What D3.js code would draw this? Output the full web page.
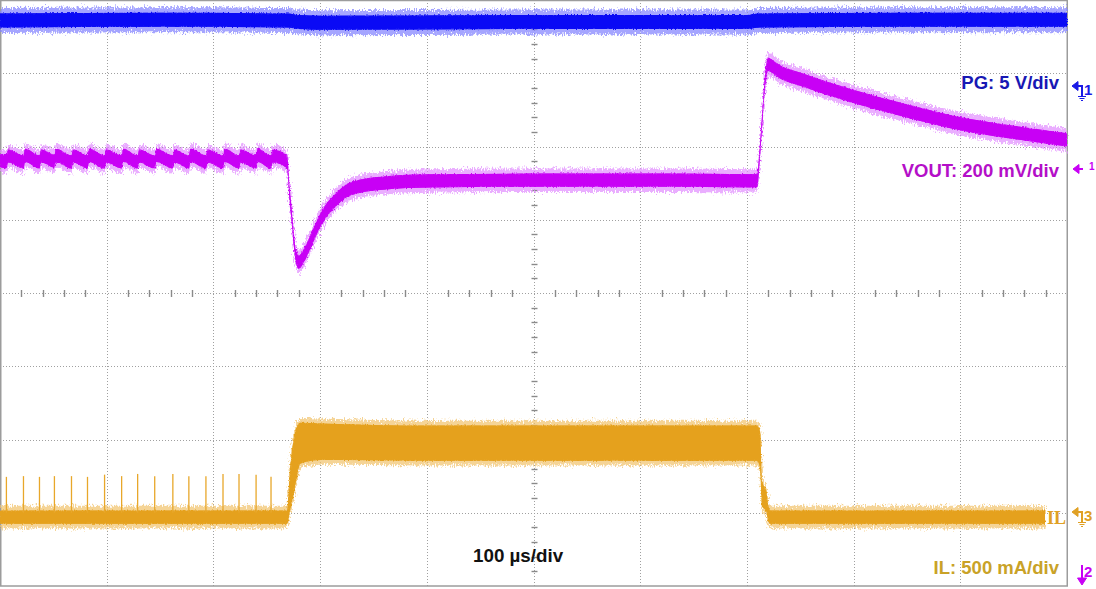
<!DOCTYPE html>
<html><head><meta charset="utf-8">
<script src="https://cdn.jsdelivr.net/npm/d3@7"></script>
<style>html,body{margin:0;padding:0;background:#fff}svg{display:block}</style>
</head><body>
<svg id="c" width="1096" height="589"></svg>
<script>
// Horizontal: time in µs (100 µs/div, 10 div). Vertical: screen divisions (-4 .. +4).
const timebaseLabel = "100 µs/div";
const channelLabels = ["PG: 5 V/div", "VOUT: 200 mV/div", "IL: 500 mA/div"];
const traceTag = "IL";

// PG trace: [time µs, level div]
const pgPoints = [[0,3.72],[150,3.73],[270,3.72],[280,3.70],[300,3.69],[500,3.70],[700,3.70],[712,3.72],[850,3.73],[1000,3.73]];

// VOUT trace: [time µs, level div]
const voutPoints = [
  [0,1.81],[6,1.79],[7.5,1.87],[22,1.79],[23.5,1.88],[37,1.79],[38.5,1.87],[51,1.80],[52.5,1.88],
  [67,1.79],[68.5,1.87],[82,1.79],[83.5,1.88],[98,1.79],[99.5,1.87],[114,1.79],[115.5,1.88],
  [129,1.79],[130.5,1.87],[145,1.79],[146.5,1.88],[162,1.79],[163.5,1.87],[177,1.79],[178.5,1.88],
  [193,1.79],[194.5,1.87],[209,1.79],[210.5,1.88],[224,1.79],[225.5,1.87],[240,1.79],[241.5,1.88],
  [254,1.79],[255.5,1.87],[269,1.79],
  [271.5,1.35],[273.7,1.00],[277.4,0.50],[280.2,0.42],[284,0.49],[290.5,0.68],[297.1,0.90],
  [304.6,1.10],[312.1,1.23],[328,1.42],[359,1.50],[403,1.53],[515,1.54],[609,1.54],[709.5,1.53],
  [712.3,1.95],[716,2.70],[719.8,3.12],[725,3.08],[731,3.02],[749.8,2.92],[800.4,2.68],
  [843.5,2.51],[900.7,2.31],[946.6,2.20],[1000,2.09]
];

// IL trace: [time µs, centre div, half band width div]
const ilPoints = [
  [0,-3.06,0.09],[269,-3.06,0.09],[271.8,-2.69,0.28],[274.6,-2.42,0.36],[278.4,-2.16,0.34],
  [281.2,-2.05,0.28],[300,-2.03,0.25],[400,-2.05,0.24],[550,-2.05,0.24],[709.5,-2.05,0.24],
  [712.3,-2.14,0.25],[714.2,-2.74,0.17],[717.9,-2.83,0.14],[720.7,-3.04,0.10],[722,-3.06,0.09],
  [979.4,-3.06,0.09]
];

// IL pulse-skipping spikes before the load step: [time µs, peak div]
const ilSpikes = [[6,-2.51],[22,-2.50],[37,-2.51],[51,-2.50],[67,-2.50],[82,-2.51],[98,-2.48],[114,-2.50],
  [129,-2.47],[145,-2.50],[162,-2.47],[177,-2.50],[193,-2.50],[209,-2.47],[224,-2.47],[240,-2.48],[254,-2.51]];

const W = 1096, H = 589;
const svg = d3.select("#c");
svg.append("rect").attr("width", W).attr("height", H).attr("fill", "#fff");

const x = d3.scaleLinear().domain([0, 1000]).range([0, 1067]);
const y = d3.scaleLinear().domain([-4, 4]).range([586, 0]);

const defs = svg.append("defs");
function mkFilter(id, scale, freq, seed) {
  const f = defs.append("filter").attr("id", id).attr("filterUnits", "userSpaceOnUse")
    .attr("x", 0).attr("y", 0).attr("width", W).attr("height", H);
  f.append("feTurbulence").attr("type", "fractalNoise").attr("baseFrequency", freq)
    .attr("numOctaves", 2).attr("seed", seed).attr("result", "n");
  f.append("feDisplacementMap").attr("in", "SourceGraphic").attr("in2", "n")
    .attr("scale", scale).attr("xChannelSelector", "R").attr("yChannelSelector", "G");
}
mkFilter("fuzz", 10, "0.9 0.35", 3);
mkFilter("rough", 4, "0.9 0.5", 7);

// grid
const grid = svg.append("g");
const px = v => Math.round(x(v)) + 0.5, py = v => Math.round(y(v)) + 0.5;
x.ticks(10).slice(1, -1).forEach(t => grid.append("line")
  .attr("x1", px(t)).attr("x2", px(t)).attr("y1", 0).attr("y2", 586)
  .attr("stroke", "#a0a0a0").attr("stroke-dasharray", "1,2"));
y.ticks(8).slice(1, -1).forEach(v => grid.append("line")
  .attr("x1", 0).attr("x2", 1067).attr("y1", py(v)).attr("y2", py(v))
  .attr("stroke", "#a0a0a0").attr("stroke-dasharray", "1,2"));
// minor ticks on centre axes
d3.range(0, 1001, 20).forEach(t => { if (t % 100) grid.append("line")
  .attr("x1", px(t)).attr("x2", px(t)).attr("y1", py(0) - 3.5).attr("y2", py(0) + 3.5)
  .attr("stroke", "#8a8a8a").attr("stroke-width", 1.4); });
d3.range(-4, 4.001, 0.2).forEach(v => { if (Math.abs(v - Math.round(v)) > 0.01) grid.append("line")
  .attr("x1", px(500) - 3).attr("x2", px(500) + 3).attr("y1", py(v)).attr("y2", py(v))
  .attr("stroke", "#8a8a8a").attr("stroke-width", 1.4); });
// border
grid.append("rect").attr("x", 0.75).attr("y", 0.5).attr("width", 1066.5).attr("height", 585.5)
  .attr("fill", "none").attr("stroke", "#9c9c9c").attr("stroke-width", 1.5);

// traces
function band(points, hwCore, hwFuzz, core, light, hwIdx) {
  const g = svg.append("g");
  const hw = d => (hwIdx ? d[2] : hwCore);
  const areaF = d3.area().curve(d3.curveMonotoneX).x(d => x(d[0]))
    .y0(d => y(d[1] - hw(d) - hwFuzz)).y1(d => y(d[1] + hw(d) + hwFuzz));
  const areaC = d3.area().curve(d3.curveMonotoneX).x(d => x(d[0]))
    .y0(d => y(d[1] - hw(d))).y1(d => y(d[1] + hw(d)));
  g.append("path").datum(points).attr("d", areaF).attr("fill", light).attr("opacity", 0.7).attr("filter", "url(#fuzz)");
  g.append("path").datum(points).attr("d", areaC).attr("fill", core).attr("filter", "url(#rough)");
  g.append("path").datum(points).attr("d", areaC).attr("fill", core).attr("opacity", 0.8);
  return g;
}
band(pgPoints, 0.095, 0.075, "#0a0af5", "#8080ff", false);
band(voutPoints, 0.09, 0.07, "#c800f5", "#e28cff", false);
const ilG = band(ilPoints, 0, 0.065, "#e5a11e", "#f1c26a", true);
ilG.selectAll(".spk").data(ilSpikes).join("line").attr("class", "spk")
  .attr("x1", d => x(d[0])).attr("x2", d => x(d[0]))
  .attr("y1", y(-3.0)).attr("y2", d => y(d[1]))
  .attr("stroke", "#e8a72a").attr("stroke-width", 1.3);

// labels
const font = "'Liberation Sans', Arial, sans-serif";
const txt = (s, xx, yy, col, size, anchor, fam, weight) => svg.append("text").text(s)
  .attr("x", xx).attr("y", yy).attr("fill", col).attr("font-size", size)
  .attr("font-family", fam || font).attr("font-weight", weight || "bold").attr("text-anchor", anchor || "end");
txt(channelLabels[0], 1059, 89, "#1818b4", 18.5);
txt(channelLabels[1], 1059, 177, "#b40fc8", 18.5);
txt(channelLabels[2], 1059, 574, "#c9a227", 18.5);
txt(timebaseLabel, 473, 562, "#111", 18.8, "start");
txt(traceTag, 1047, 524, "#e0a024", 18, "start", "'Liberation Serif', serif", "bold");

// channel markers
function marker(xx, yy, col, num, ground) {
  const g = svg.append("g").attr("stroke", col).attr("fill", col);
  g.append("path").attr("d", `M${xx} ${yy} l6 -4.5 v9 z`).attr("stroke-width", 1);
  g.append("path").attr("d", `M${xx + 3} ${yy} H${xx + 10}` + (ground ? ` V${yy + 10}` : "")).attr("stroke-width", 2).attr("fill", "none");
  if (ground) {
    g.append("path").attr("d", `M${xx + 6} ${yy + 10.5} h8 M${xx + 7.5} ${yy + 12.5} h5 M${xx + 9} ${yy + 14.5} h2`)
      .attr("stroke-width", 1.2).attr("fill", "none");
  }
  if (num) svg.append("text").text(num).attr("x", xx + 12).attr("y", yy + 9).attr("fill", col)
    .attr("font-size", 15).attr("font-family", font).attr("font-weight", "bold");
}
marker(1072, 86, "#1a1ae6", "1", true);
marker(1073, 169, "#c800f5", null, false);
svg.append("text").text("1").attr("x", 1089).attr("y", 170).attr("fill", "#c800f5")
  .attr("font-size", 10).attr("font-family", font).attr("font-weight", "bold");
marker(1072, 512, "#e0a024", "3", true);
// channel 2 reference (arrow down)
const m2 = svg.append("g").attr("stroke", "#c800f5").attr("fill", "#c800f5");
m2.append("path").attr("d", "M1082 565 V580").attr("stroke-width", 2);
m2.append("path").attr("d", "M1077.5 578 L1086.5 578 L1082 585 Z").attr("stroke-width", 1);
svg.append("text").text("2").attr("x", 1084).attr("y", 577).attr("fill", "#c800f5")
  .attr("font-size", 15).attr("font-family", font).attr("font-weight", "bold");
</script>
</body></html>
